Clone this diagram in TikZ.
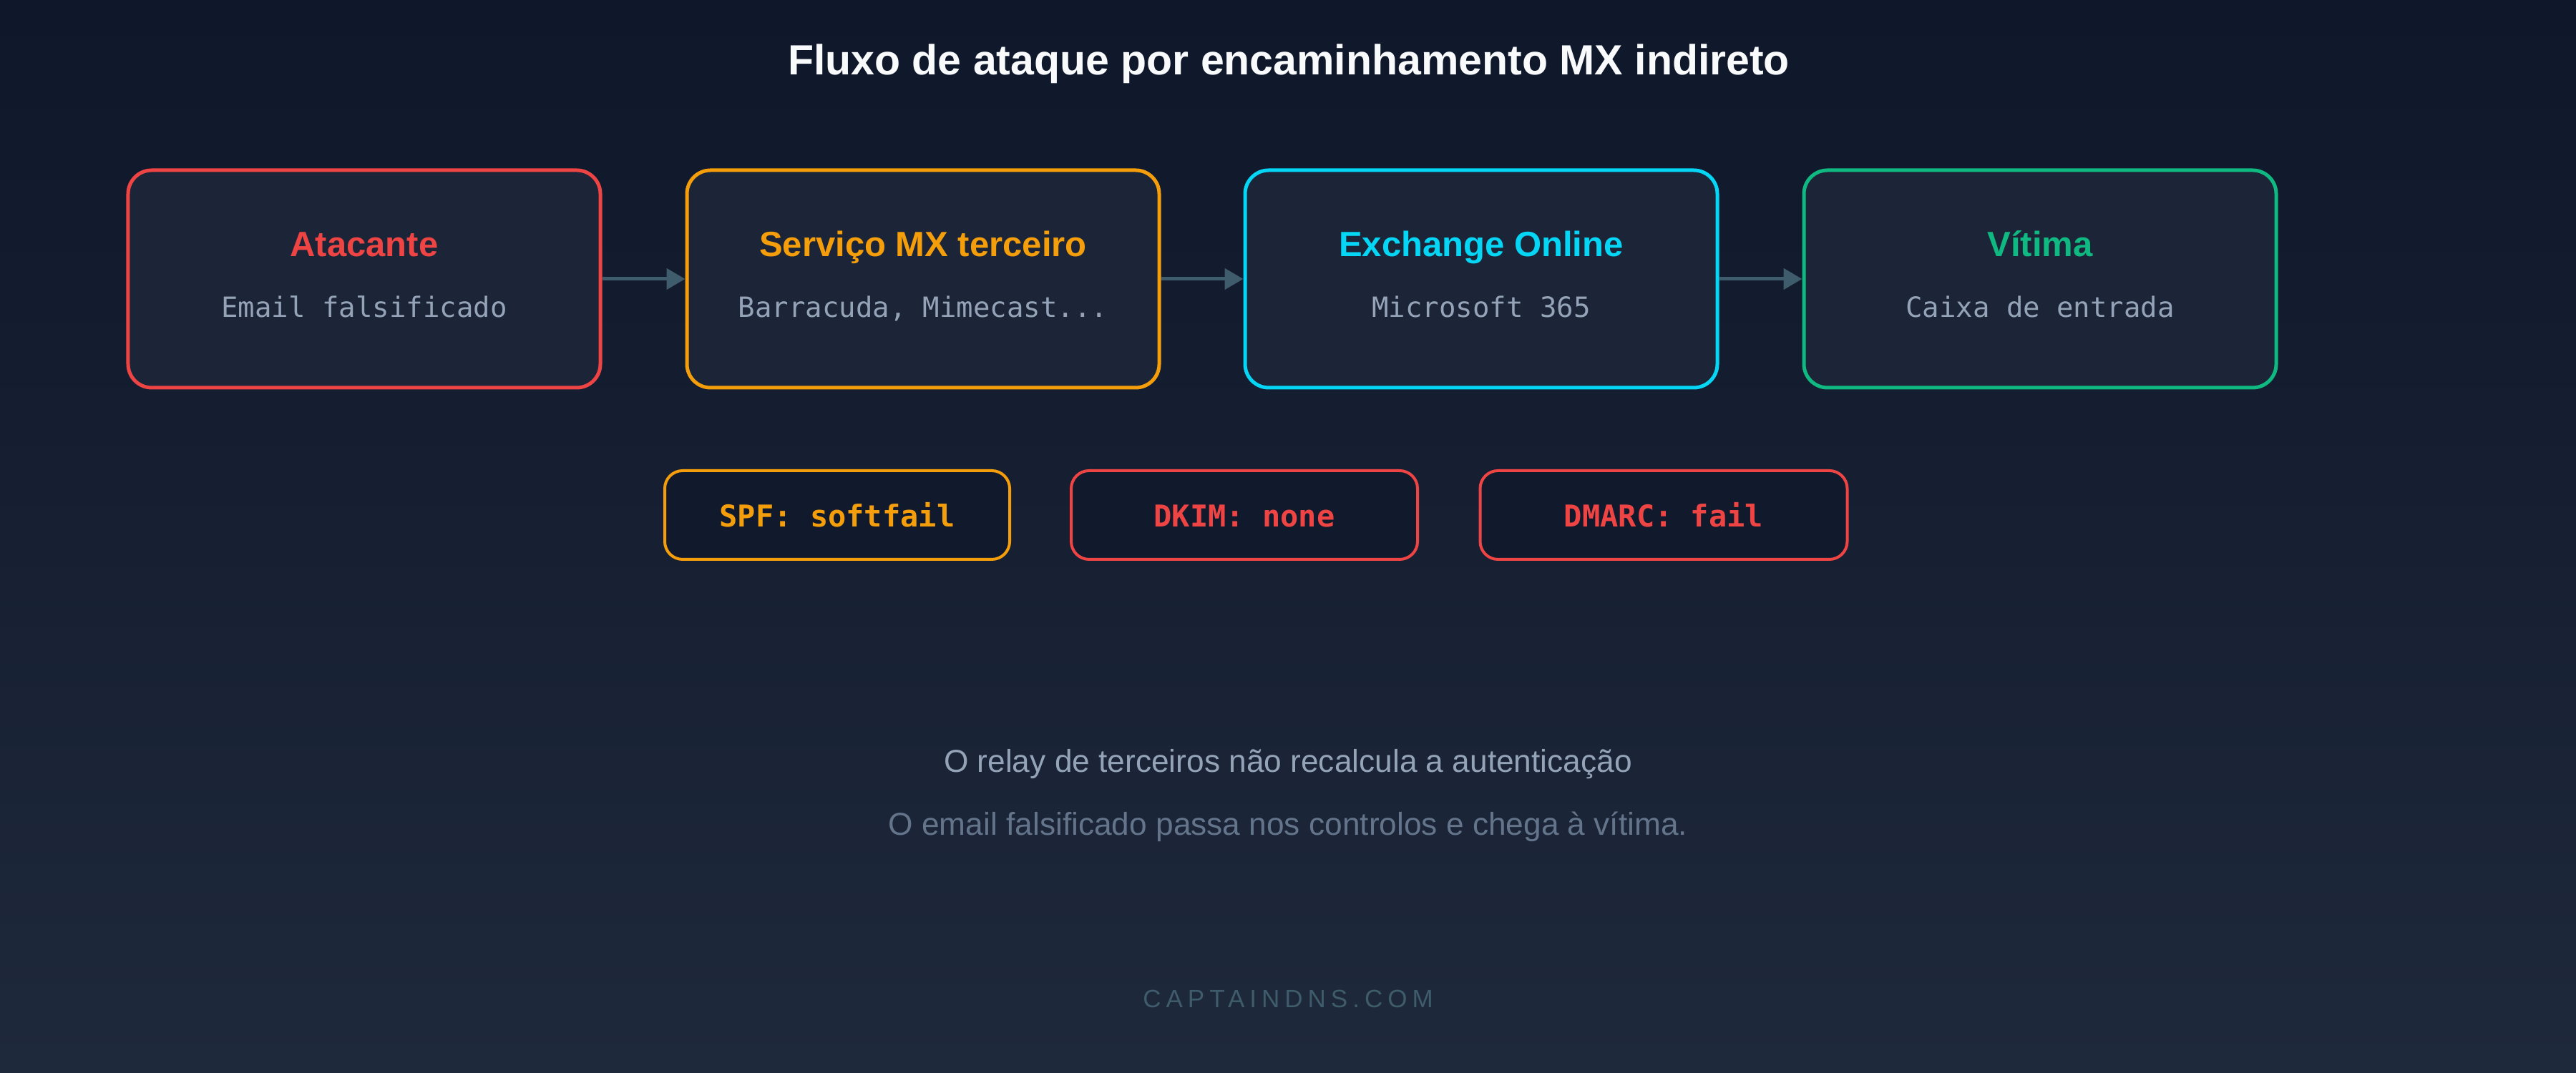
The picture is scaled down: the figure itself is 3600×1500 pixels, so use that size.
\documentclass[tikz,border=0pt]{standalone}
\usepackage{fontspec}
\setmainfont{Liberation Sans}
\newfontfamily\monofont{DejaVu Sans Mono}
\newfontfamily\creditfont[LetterSpace=20]{Liberation Sans}
\usetikzlibrary{arrows.meta}
\definecolor{bgtop}{HTML}{0F172A}
\definecolor{bgbot}{HTML}{1E293B}
\definecolor{boxfill}{HTML}{1C2537}
\definecolor{badgefill}{HTML}{111A2D}
\definecolor{cred}{HTML}{EF4444}
\definecolor{corange}{HTML}{F59E0B}
\definecolor{ccyan}{HTML}{06D6F5}
\definecolor{cgreen}{HTML}{10B981}
\definecolor{csub}{HTML}{94A3B8}
\definecolor{cmuted}{HTML}{64748B}
\definecolor{carrow}{HTML}{3E5C6B}
\definecolor{ctitle}{HTML}{F8FAFC}
\tikzset{
  stage/.style={draw=#1, line width=1pt, rounded corners=6.6pt, fill=boxfill,
    minimum width=132pt, minimum height=60.8pt, inner sep=0pt},
  badge/.style={draw=#1, line width=0.8pt, rounded corners=5pt, fill=badgefill,
    minimum height=24.8pt, inner sep=0pt},
  stagetitle/.style={anchor=base, inner sep=0pt, text=#1, font=\fontsize{9.8pt}{11pt}\selectfont\bfseries},
  stagesub/.style={anchor=base, inner sep=0pt, text=csub, font=\monofont\fontsize{7.8pt}{9pt}\selectfont},
  badgetext/.style={anchor=base, inner sep=0pt, text=#1, font=\monofont\fontsize{8.4pt}{10pt}\selectfont\bfseries},
  flow/.style={draw=carrow, line width=1pt, -{Triangle[length=5.2pt, width=5.8pt]}},
}
\begin{document}
\begin{tikzpicture}[x=0.2pt,y=-0.2pt]
\shade[top color=bgtop, bottom color=bgbot] (0,0) rectangle (3600,1500);
\useasboundingbox (0,0) rectangle (3600,1500);

\node[anchor=base, inner sep=0pt, text=ctitle, font=\fontsize{11.8pt}{14pt}\selectfont\bfseries] (title) at (1801,105) {Fluxo de ataque por encaminhamento MX indireto};

\node[stage=cred] (s1) at (509,390) {};
\node[stage=corange] (s2) at (1290,390) {};
\node[stage=ccyan] (s3) at (2070,390) {};
\node[stage=cgreen] (s4) at (2851,390) {};

\node[stagetitle=cred] (t1) at (509,359) {Atacante};
\node[stagesub] (u1) at (509,444) {Email falsificado};
\node[stagetitle=corange] (t2) at (1290,359) {Serviço MX terceiro};
\node[stagesub] (u2) at (1290,444) {Barracuda, Mimecast...};
\node[stagetitle=ccyan] (t3) at (2070,359) {Exchange Online};
\node[stagesub] (u3) at (2070,444) {Microsoft 365};
\node[stagetitle=cgreen] (t4) at (2851,359) {Vítima};
\node[stagesub] (u4) at (2851,444) {Caixa de entrada};

\draw[flow] (s1.east) -- (s2.west);
\draw[flow] (s2.east) -- (s3.west);
\draw[flow] (s3.east) -- (s4.west);

\node[badge=corange, minimum width=96.4pt] (b1) at (1170,720) {};
\node[badge=cred, minimum width=96.8pt] (b2) at (1739,720) {};
\node[badge=cred, minimum width=102.6pt] (b3) at (2325,720) {};
\node[badgetext=corange] (bt1) at (1170,737) {SPF: softfail};
\node[badgetext=cred] (bt2) at (1739,737) {DKIM: none};
\node[badgetext=cred] (bt3) at (2325,737) {DMARC: fail};

\node[anchor=base, inner sep=0pt, text=csub, font=\fontsize{8.85pt}{10pt}\selectfont] (n1) at (1800,1080) {O relay de terceiros não recalcula a autenticação};
\node[anchor=base, inner sep=0pt, text=cmuted, font=\fontsize{8.85pt}{10pt}\selectfont] (n2) at (1800,1168) {O email falsificado passa nos controlos e chega à vítima.};
\node[anchor=base, inner sep=0pt, text=carrow, font=\creditfont\fontsize{7pt}{8pt}\selectfont] (cr) at (1800,1409) {CAPTAINDNS.COM};
\end{tikzpicture}
\end{document}
